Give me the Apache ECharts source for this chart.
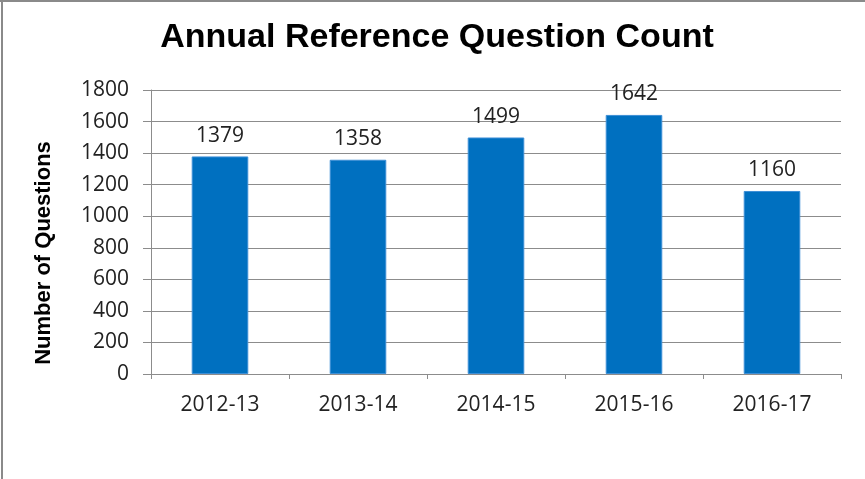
<!DOCTYPE html>
<html>
<head>
<meta charset="utf-8">
<script src="https://cdn.jsdelivr.net/npm/echarts@6/dist/echarts.min.js"></script>
<style>
  html, body { margin: 0; padding: 0; background: #fff; }
  #wrap { position: relative; width: 865px; height: 479px; }
  #main { width: 865px; height: 479px; }
  /* frame of the original image: only top and left edges visible */
  #wrap:before { content: ""; position: absolute; left: 0; top: 0; width: 865px; height: 2px; background: #8a8a8a; z-index: 5; }
  #wrap:after { content: ""; position: absolute; left: 1px; top: 0; width: 2px; height: 479px; background: #8a8a8a; z-index: 5; }
</style>
</head>
<body>
<div id="wrap"><div id="main"></div></div>
<script>
// chart data
var years = ["2012-13", "2013-14", "2014-15", "2015-16", "2016-17"];
var questions = [1379, 1358, 1499, 1642, 1160];

var labelFont = "Open Sans";

var myChart = echarts.init(document.getElementById("main"));
myChart.setOption({
  animation: false,
  title: {
    text: "Annual Reference Question Count",
    left: 432,
    textAlign: "center",
    top: 16,
    textStyle: { fontFamily: "Liberation Sans", fontWeight: "bold", fontSize: 34, color: "#000" }
  },
  grid: { left: 151, right: 24, top: 90, bottom: 105 },
  xAxis: {
    type: "category",
    data: years,
    axisLine: { lineStyle: { color: "#8c8c8c", width: 1 } },
    axisTick: { show: true, length: 5, lineStyle: { color: "#8c8c8c" } },
    axisLabel: { color: "#222", fontFamily: labelFont, fontSize: 21, margin: 21 }
  },
  yAxis: {
    type: "value",
    min: 0,
    max: 1800,
    interval: 200,
    name: "Number of Questions",
    nameLocation: "middle",
    nameGap: 96,
    nameTextStyle: { fontFamily: "Liberation Sans", fontWeight: "bold", fontSize: 22, color: "#000", padding: [0, 42, 0, 0] },
    axisLine: { show: true, lineStyle: { color: "#8c8c8c", width: 1 } },
    axisTick: { show: true, length: 8, lineStyle: { color: "#8c8c8c" } },
    splitLine: { lineStyle: { color: "#8c8c8c", width: 1 } },
    axisLabel: { color: "#222", fontFamily: labelFont, fontSize: 21, margin: 22, formatter: function (v) { return String(v); } }
  },
  series: [
    {
      type: "bar",
      data: questions,
      barWidth: "41%",
      itemStyle: { color: "#0070c0", borderColor: "#3d8fd6", borderWidth: 1 },
      label: {
        show: true,
        position: "top",
        distance: 10,
        color: "#222",
        fontFamily: labelFont,
        fontSize: 21
      }
    }
  ]
});
</script>
</body>
</html>
